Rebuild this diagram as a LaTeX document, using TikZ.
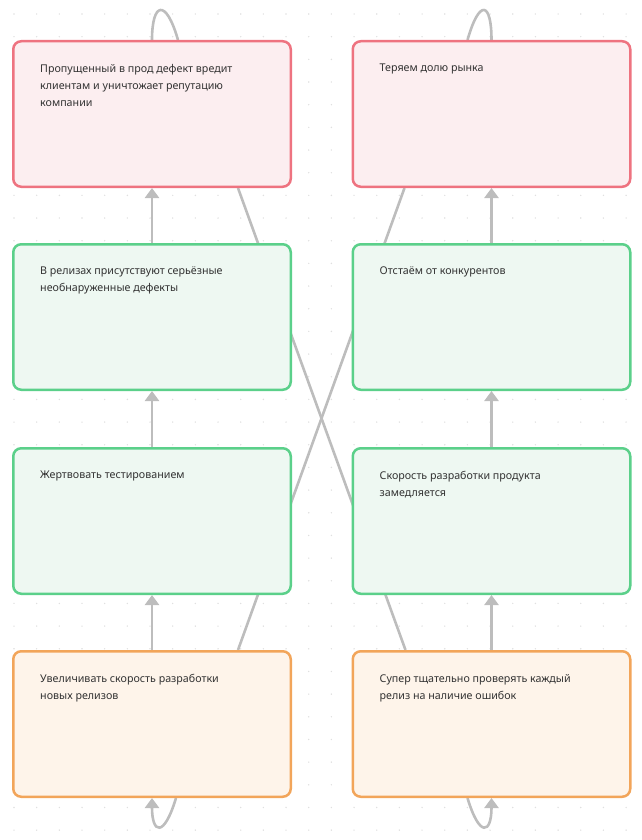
\documentclass[tikz,border=0pt]{standalone}
\usepackage{fontspec}
\setmainfont{Noto Sans}
\usetikzlibrary{arrows.meta,backgrounds}

\definecolor{redline}{HTML}{EE7380}
\definecolor{redfill}{HTML}{FCEEF0}
\definecolor{greenline}{HTML}{5BD08A}
\definecolor{greenfill}{HTML}{EEF8F2}
\definecolor{orangeline}{HTML}{F2A55A}
\definecolor{orangefill}{HTML}{FEF4EA}
\definecolor{linkgray}{HTML}{BDBDBD}
\definecolor{txtgray}{HTML}{333333}

\tikzset{
  card/.style={draw=#1line,fill=#1fill,line width=2.5pt,rounded corners=8pt,
    minimum width=277.5pt,minimum height=145.5pt,inner sep=0pt},
  txt/.style={anchor=north west,inner sep=0pt,align=left,text=txtgray,
    font=\fontsize{10.7}{17}\selectfont},
  link/.style={draw=linkgray,line width=2.6pt},
  arr/.style={link,-{Triangle[width=14pt,length=10pt]}},
}

\begin{document}
\begin{tikzpicture}[x=1pt,y=-1pt]
  \useasboundingbox (0,0) rectangle (641,840);

  % cards
  \node[card=red]    (A1) at (152,114) {};
  \node[card=green]  (A2) at (152,317) {};
  \node[card=green]  (A3) at (152,521) {};
  \node[card=orange] (A4) at (152,724) {};
  \node[card=red]    (B1) at (491.5,114) {};
  \node[card=green]  (B2) at (491.5,317) {};
  \node[card=green]  (B3) at (491.5,521) {};
  \node[card=orange] (B4) at (491.5,724) {};

  \node[txt] (tA1) at ([shift={(28,24)}]A1.north west)
    {Пропущенный в прод дефект вредит\\клиентам и уничтожает репутацию\\компании};
  \node[txt] (tA2) at ([shift={(28,24)}]A2.north west)
    {В релизах присутствуют серьёзные\\необнаруженные дефекты};
  \node[txt] (tA3) at ([shift={(28,24)}]A3.north west) {Жертвовать тестированием};
  \node[txt] (tA4) at ([shift={(28,24)}]A4.north west)
    {Увеличивать скорость разработки\\новых релизов};
  \node[txt] (tB1) at ([shift={(28,24)}]B1.north west) {Теряем долю рынка};
  \node[txt] (tB2) at ([shift={(28,24)}]B2.north west) {Отстаём от конкурентов};
  \node[txt] (tB3) at ([shift={(28,24)}]B3.north west)
    {Скорость разработки продукта\\замедляется};
  \node[txt] (tB4) at ([shift={(28,24)}]B4.north west)
    {Супер тщательно проверять каждый\\релиз на наличие ошибок};

  \begin{scope}[on background layer]
    % dotted grid
    \foreach \i in {0,...,28} {%
      \foreach \j in {0,...,36} {%
        \fill[black!12] (14+22.67*\i,14+22.67*\j) circle (0.8);
      }
    }
    % links
    \draw[link] ([xshift=86]A1.south) -- ([xshift=-86]B4.north);
    \draw[link] ([xshift=-87]B1.south) -- ([xshift=86]A4.north);
    \foreach \c in {A,B} {%
      \draw[arr] (\c2.north) -- (\c1.south);
      \draw[arr] (\c3.north) -- (\c2.south);
      \draw[arr] (\c4.north) -- (\c3.south);
    }
    \draw[link] ([xshift=26]A1.north) .. controls +(-12,-42) and +(0,-38) .. (A1.north);
    \draw[link] ([xshift=-24]B1.north) .. controls +(12,-42) and +(0,-38) .. (B1.north);
    \draw[arr] ([xshift=24]A4.south) .. controls +(-12,40) and +(0,36) .. (A4.south);
    \draw[arr] ([xshift=-24]B4.south) .. controls +(12,40) and +(0,36) .. (B4.south);
  \end{scope}
\end{tikzpicture}
\end{document}
